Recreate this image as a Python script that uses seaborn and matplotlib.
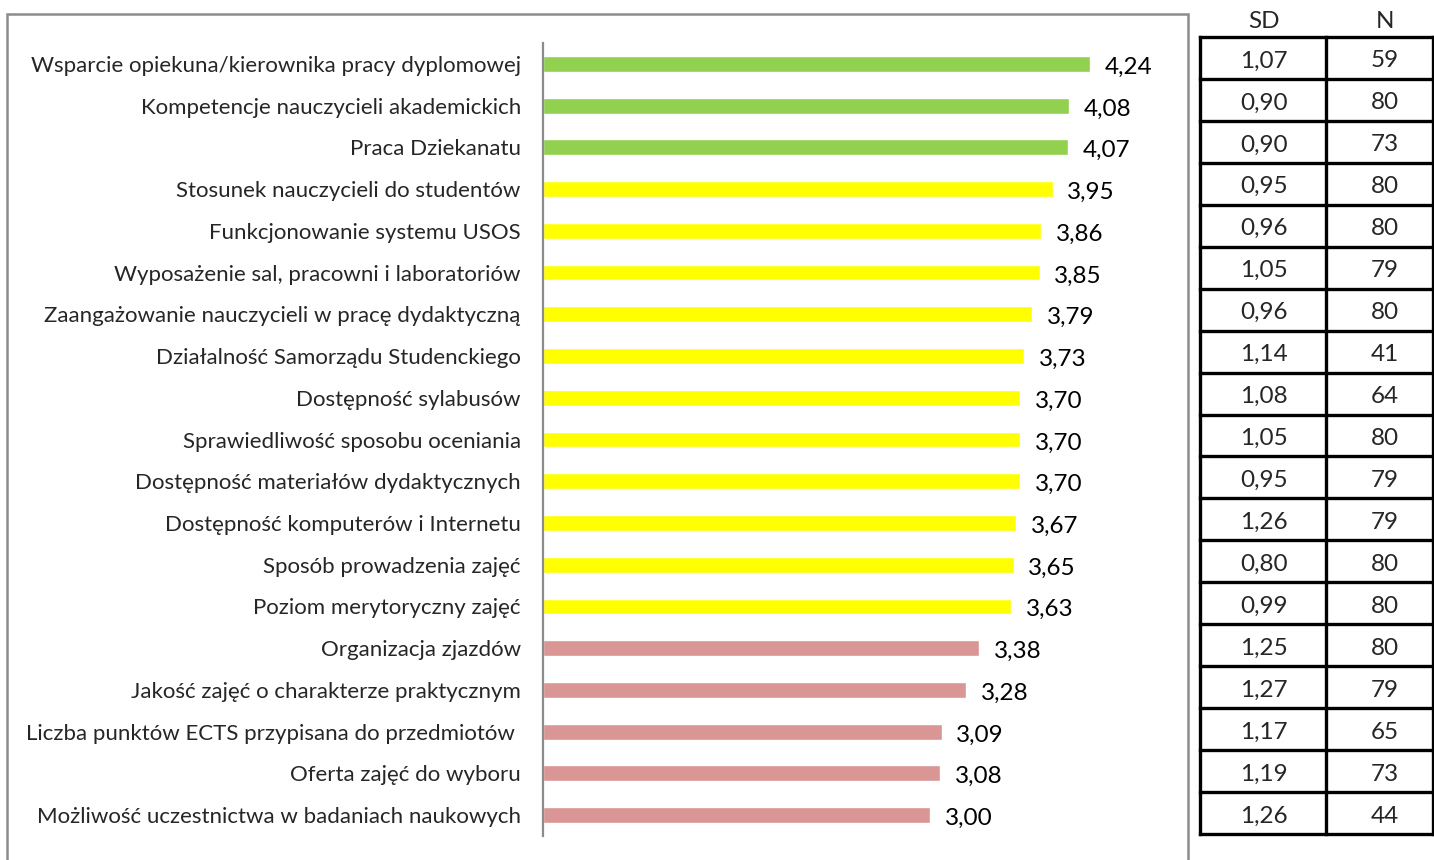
import matplotlib
matplotlib.use("Agg")
import matplotlib.pyplot as plt
import seaborn as sns
import pandas as pd
from matplotlib.patches import Rectangle

categories = [
    "Wsparcie opiekuna/kierownika pracy dyplomowej",
    "Kompetencje nauczycieli akademickich",
    "Praca Dziekanatu",
    "Stosunek nauczycieli do studentów",
    "Funkcjonowanie systemu USOS",
    "Wyposażenie sal, pracowni i laboratoriów",
    "Zaangażowanie nauczycieli w pracę dydaktyczną",
    "Działalność Samorządu Studenckiego",
    "Dostępność sylabusów",
    "Sprawiedliwość sposobu oceniania",
    "Dostępność materiałów dydaktycznych",
    "Dostępność komputerów i Internetu",
    "Sposób prowadzenia zajęć",
    "Poziom merytoryczny zajęć",
    "Organizacja zjazdów",
    "Jakość zajęć o charakterze praktycznym",
    "Liczba punktów ECTS przypisana do przedmiotów ",
    "Oferta zajęć do wyboru",
    "Możliwość uczestnictwa w badaniach naukowych",
]
means = [4.24, 4.08, 4.07, 3.95, 3.86, 3.85, 3.79, 3.73, 3.70, 3.70,
         3.70, 3.67, 3.65, 3.63, 3.38, 3.28, 3.09, 3.08, 3.00]
sd = [1.07, 0.90, 0.90, 0.95, 0.96, 1.05, 0.96, 1.14, 1.08, 1.05,
      0.95, 1.26, 0.80, 0.99, 1.25, 1.27, 1.17, 1.19, 1.26]
n = [59, 80, 73, 80, 80, 79, 80, 41, 64, 80,
     79, 79, 80, 80, 80, 79, 65, 73, 44]
groups = ["high"] * 3 + ["mid"] * 11 + ["low"] * 5

palette = {"high": "#92D050", "mid": "#FFFF00", "low": "#DA9694"}

def fmt(v):
    return f"{v:.2f}".replace(".", ",")

df = pd.DataFrame({"category": categories, "mean": means, "group": groups})

sns.set_style("white")
plt.rcParams["font.family"] = ["Lato", "DejaVu Sans"]

W, H = 1434, 860
fig = plt.figure(figsize=(W / 100, H / 100), dpi=100)

# outer chart frame
fig.patches.append(Rectangle((7 / W, -0.05), (1188 - 7) / W, 1.05 - 14 / H,
                             transform=fig.transFigure, fill=False,
                             edgecolor="#8c8c8c", linewidth=1.8, zorder=0))

# bar chart axes
ax = fig.add_axes([543 / W, 1 - 836 / H, (1188 - 543) / W, (836 - 43) / H])
sns.barplot(data=df, x="mean", y="category", hue="group", palette=palette,
            dodge=False, width=0.38, legend=False, ax=ax, orient="h",
            saturation=1)
ax.set_xlim(0, 5)
ax.set_ylim(len(categories) - 0.5, -0.5)
ax.set_xlabel("")
ax.set_ylabel("")
ax.set_xticks([])
for s in ["top", "right", "bottom"]:
    ax.spines[s].set_visible(False)
ax.spines["left"].set_color("#8c8c8c")
ax.spines["left"].set_linewidth(1.6)
ax.tick_params(axis="y", length=0, pad=16, labelsize=16)
for lbl in ax.get_yticklabels():
    lbl.set_va("center_baseline")
ax.patch.set_alpha(0)

for i, v in enumerate(means):
    ax.annotate(fmt(v), xy=(v, i), xytext=(10.5, -1), textcoords="offset points",
                ha="left", va="center_baseline", fontsize=17.5, color="#000000")

# SD / N table
tx0, tx1, tdiv = 1200, 1440, 1326
ty0, ty1 = 37, 834
tab = fig.add_axes([tx0 / W, 1 - ty1 / H, (tx1 - tx0) / W, (ty1 - ty0) / H])
tab.set_xlim(tx0, tx1)
tab.set_ylim(ty1, ty0)
tab.axis("off")
rows = len(categories)
rh = (ty1 - ty0) / rows
for r in range(rows + 1):
    tab.plot([tx0, tx1], [ty0 + r * rh] * 2, color="black", lw=2.4,
             solid_capstyle="projecting", clip_on=False)
for x in [tx0, tdiv, 1433]:
    tab.plot([x, x], [ty0, ty1], color="black", lw=2.4,
             solid_capstyle="projecting", clip_on=False)
for r in range(rows):
    yc = ty0 + (r + 0.5) * rh + 1
    tab.text(1264, yc, fmt(sd[r]), ha="center", va="center_baseline", fontsize=17.5)
    tab.text(1385, yc, str(n[r]), ha="center", va="center_baseline", fontsize=17.5)
tab.text(1264, 19, "SD", ha="center", va="center_baseline", fontsize=17.5, clip_on=False)
tab.text(1385, 19, "N", ha="center", va="center_baseline", fontsize=17.5, clip_on=False)

fig.savefig("out.png", dpi=100)
